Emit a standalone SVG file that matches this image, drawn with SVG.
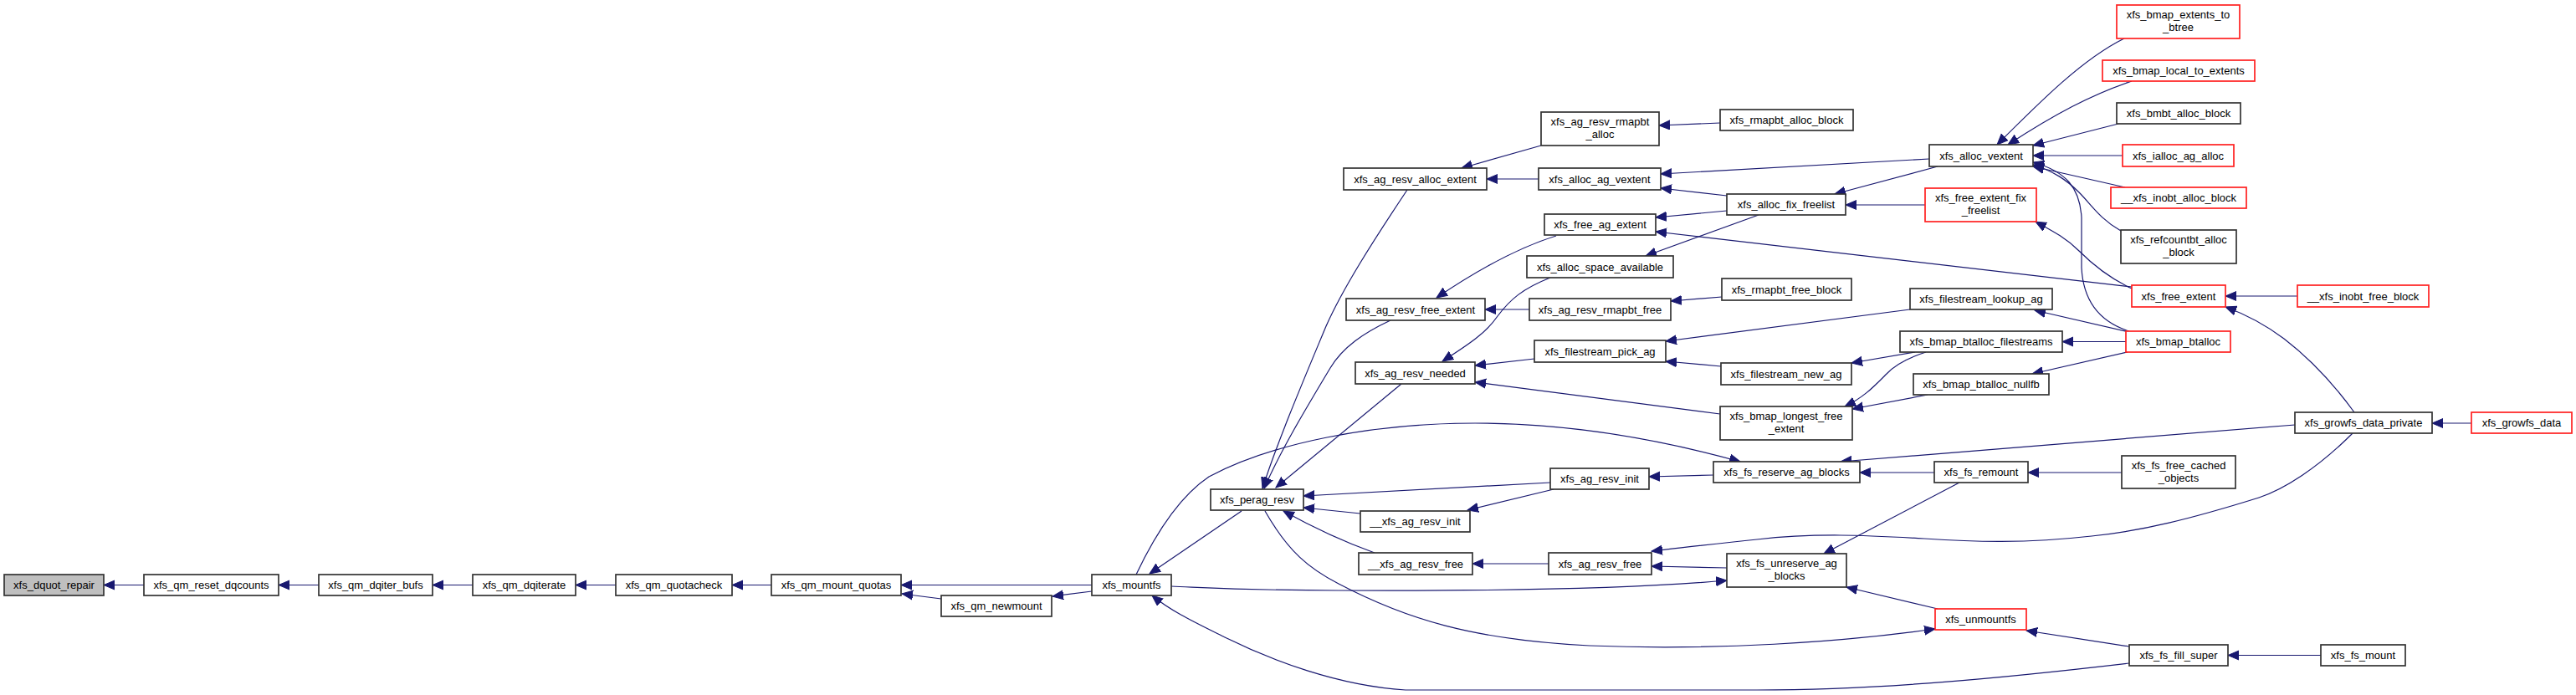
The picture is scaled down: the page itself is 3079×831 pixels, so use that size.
<svg xmlns="http://www.w3.org/2000/svg" width="3079" height="831" viewBox="0 0 3079 831">
<style>
.n rect{fill:#fff;stroke:#333;stroke-width:1.7}
.r rect{fill:#fff;stroke:#ff2020;stroke-width:1.7}
.g rect{fill:#bfbfbf;stroke:#333;stroke-width:1.7}
text{font-family:"Liberation Sans",Arial,sans-serif;font-size:13px;fill:#000;text-anchor:middle}
#edges path{fill:none;stroke:#191970;stroke-width:1.2;marker-end:url(#ah)}
</style>
<defs>
<marker id="ah" markerUnits="userSpaceOnUse" markerWidth="15" markerHeight="13" refX="13" refY="6" orient="auto">
<path d="M0,0.5 L13,6 L0,11.5 z" fill="#191970" stroke="#191970" stroke-width="1"/>
</marker>
</defs>
<rect width="3079" height="831" fill="#fff"/>
<g id="edges">
<path d="M172,699.5 L124,699.5"/>
<path d="M381,699.5 L333,699.5"/>
<path d="M565,699.5 L517,699.5"/>
<path d="M736,699.5 L688,699.5"/>
<path d="M922,699.5 L875,699.5"/>
<path d="M1305,699.5 L1077,699.5"/>
<path d="M1125,716 L1078,710"/>
<path d="M1305,707 L1258,713"/>
<path d="M1484,611 L1374,686"/>
<path d="M1358,687 C1385,630 1415,590 1445,570 C1520,530 1640,506 1763,506 C1880,506 1990,527 2080,552"/>
<path d="M1682,227 C1640,290 1605,345 1585,390 C1560,450 1528,525 1509,584"/>
<path d="M1662,383 C1630,398 1605,415 1590,440 C1560,490 1530,540 1511,584"/>
<path d="M1675,459 L1525,583"/>
<path d="M1853,332 C1820,345 1805,358 1790,378 C1775,400 1750,415 1724,432"/>
<path d="M1860,282 C1815,296 1770,320 1717,356"/>
<path d="M1842,174 L1747,201"/>
<path d="M1839,214 L1777,214"/>
<path d="M1828,370 L1775,370"/>
<path d="M1834,429 L1763,437"/>
<path d="M2056,495 L1763,457"/>
<path d="M1853,577 L1558,593"/>
<path d="M1626,614 L1558,607"/>
<path d="M1857,585 L1754,610"/>
<path d="M1643,661 Q1590,642 1534,611"/>
<path d="M1851,674 L1760,674"/>
<path d="M2812,518 C2770,560 2730,585 2700,595 C2620,620 2560,635 2500,641 C2420,650 2360,648 2300,644 C2230,640 2170,637 2100,645 C2050,650 2010,655 1974,659"/>
<path d="M2064,679 L1974,677"/>
<path d="M1400,701 C1450,703 1500,706 1600,706 C1800,707 1950,704 2064,694"/>
<path d="M1512,611 C1540,660 1565,680 1600,698 C1680,740 1760,765 1900,772 C2050,778 2200,768 2313,752"/>
<path d="M2545,793 C2400,810 2250,825 2100,825 L1680,825 C1600,820 1520,790 1460,760 C1430,745 1400,731 1377,712"/>
<path d="M2545,773 L2422,754"/>
<path d="M2316,728 L2207,702"/>
<path d="M2342,577 L2180,662"/>
<path d="M2312,565 L2223,565"/>
<path d="M2536,565 L2424,565"/>
<path d="M2743,508 L2200,552"/>
<path d="M2954,506 L2907,506"/>
<path d="M2048,568 L1971,570"/>
<path d="M2814,493 C2790,460 2760,428 2730,405 C2710,390 2690,378 2660,367"/>
<path d="M2746,354 L2660,354"/>
<path d="M2774,783.5 L2663,783.5"/>
<path d="M2289,421 L2213,434"/>
<path d="M2302,421 C2280,428 2265,436 2255,447 C2240,462 2228,475 2205,486"/>
<path d="M2304,472 L2214,489"/>
<path d="M2543,421 L2429,447"/>
<path d="M2541,408.5 L2465,408.5"/>
<path d="M2545,397 L2432,371"/>
<path d="M2545,396 C2510,385 2490,360 2488,320 L2488,260 C2486,225 2470,205 2430,194"/>
<path d="M2535,276 C2510,262 2500,245 2485,230 C2470,215 2455,205 2430,197"/>
<path d="M2532,148 L2430,174"/>
<path d="M2537,186 L2430,186"/>
<path d="M2540,224 L2430,199"/>
<path d="M2548,97 C2500,113 2455,137 2400,173"/>
<path d="M2539,46 C2490,70 2440,120 2387,173"/>
<path d="M2316,199 L2193,232"/>
<path d="M2301,245 L2206,245"/>
<path d="M2306,190 L1985,208"/>
<path d="M2064,234 L1985,225"/>
<path d="M2064,252 L1979,260"/>
<path d="M2548,343 L1979,277"/>
<path d="M2102,257 L1967,306"/>
<path d="M2548,345 C2520,332 2500,315 2485,300 C2470,285 2455,277 2433,265"/>
<path d="M2056,147 L1983,150"/>
<path d="M2058,355 L1997,360"/>
<path d="M2283,370 L1991,408"/>
<path d="M2057,438 L1991,432"/>
</g>
<g id="n1" class="g"><rect x="5" y="687" width="119" height="25"/><text x="64.5" y="704">xfs_dquot_repair</text></g>
<g id="n2" class="n"><rect x="172" y="687" width="161" height="25"/><text x="252.5" y="704">xfs_qm_reset_dqcounts</text></g>
<g id="n3" class="n"><rect x="381" y="687" width="136" height="25"/><text x="449" y="704">xfs_qm_dqiter_bufs</text></g>
<g id="n4" class="n"><rect x="565" y="687" width="123" height="25"/><text x="626.5" y="704">xfs_qm_dqiterate</text></g>
<g id="n5" class="n"><rect x="736" y="687" width="139" height="25"/><text x="805.5" y="704">xfs_qm_quotacheck</text></g>
<g id="n6" class="n"><rect x="922" y="687" width="155" height="25"/><text x="999.5" y="704">xfs_qm_mount_quotas</text></g>
<g id="n7" class="n"><rect x="1125" y="712" width="132" height="25"/><text x="1191" y="729">xfs_qm_newmount</text></g>
<g id="n8" class="n"><rect x="1305" y="687" width="95" height="25"/><text x="1352.5" y="704">xfs_mountfs</text></g>
<g id="n9" class="n"><rect x="1447" y="585" width="111" height="25"/><text x="1502.5" y="602">xfs_perag_resv</text></g>
<g id="n10" class="n"><rect x="1606" y="201" width="171" height="26"/><text x="1691.5" y="218.5">xfs_ag_resv_alloc_extent</text></g>
<g id="n11" class="n"><rect x="1609" y="357" width="166" height="26"/><text x="1692" y="374.5">xfs_ag_resv_free_extent</text></g>
<g id="n12" class="n"><rect x="1620" y="433" width="143" height="26"/><text x="1691.5" y="450.5">xfs_ag_resv_needed</text></g>
<g id="n13" class="n"><rect x="1853" y="560" width="118" height="25"/><text x="1912" y="577">xfs_ag_resv_init</text></g>
<g id="n14" class="n"><rect x="1626" y="611" width="131" height="25"/><text x="1691.5" y="628">__xfs_ag_resv_init</text></g>
<g id="n15" class="n"><rect x="1624" y="661" width="136" height="26"/><text x="1692" y="678.5">__xfs_ag_resv_free</text></g>
<g id="n16" class="n"><rect x="1851" y="661" width="123" height="26"/><text x="1912.5" y="678.5">xfs_ag_resv_free</text></g>
<g id="n17" class="n"><rect x="1842" y="134" width="141" height="40"/><text x="1912.5" y="150">xfs_ag_resv_rmapbt</text><text x="1912.5" y="165">_alloc</text></g>
<g id="n18" class="n"><rect x="1839" y="201" width="146" height="26"/><text x="1912" y="218.5">xfs_alloc_ag_vextent</text></g>
<g id="n19" class="n"><rect x="1846" y="256" width="133" height="25"/><text x="1912.5" y="273">xfs_free_ag_extent</text></g>
<g id="n20" class="n"><rect x="1825" y="306" width="175" height="26"/><text x="1912.5" y="323.5">xfs_alloc_space_available</text></g>
<g id="n21" class="n"><rect x="1828" y="357" width="169" height="26"/><text x="1912.5" y="374.5">xfs_ag_resv_rmapbt_free</text></g>
<g id="n22" class="n"><rect x="1834" y="407" width="157" height="26"/><text x="1912.5" y="424.5">xfs_filestream_pick_ag</text></g>
<g id="n23" class="n"><rect x="2056" y="131" width="159" height="25"/><text x="2135.5" y="148">xfs_rmapbt_alloc_block</text></g>
<g id="n24" class="n"><rect x="2306" y="173" width="124" height="26"/><text x="2368" y="190.5">xfs_alloc_vextent</text></g>
<g id="n25" class="n"><rect x="2064" y="232" width="142" height="25"/><text x="2135" y="249">xfs_alloc_fix_freelist</text></g>
<g id="n26" class="r"><rect x="2301" y="225" width="133" height="40"/><text x="2367.5" y="241">xfs_free_extent_fix</text><text x="2367.5" y="256">_freelist</text></g>
<g id="n27" class="n"><rect x="2058" y="333" width="155" height="26"/><text x="2135.5" y="350.5">xfs_rmapbt_free_block</text></g>
<g id="n28" class="n"><rect x="2283" y="345" width="170" height="25"/><text x="2368" y="362">xfs_filestream_lookup_ag</text></g>
<g id="n29" class="n"><rect x="2271" y="396" width="194" height="25"/><text x="2368" y="413">xfs_bmap_btalloc_filestreams</text></g>
<g id="n30" class="n"><rect x="2057" y="434" width="156" height="26"/><text x="2135" y="451.5">xfs_filestream_new_ag</text></g>
<g id="n31" class="n"><rect x="2287" y="447" width="162" height="25"/><text x="2368" y="464">xfs_bmap_btalloc_nullfb</text></g>
<g id="n32" class="n"><rect x="2056" y="486" width="158" height="40"/><text x="2135" y="502">xfs_bmap_longest_free</text><text x="2135" y="517">_extent</text></g>
<g id="n33" class="n"><rect x="2048" y="552" width="175" height="25"/><text x="2135.5" y="569">xfs_fs_reserve_ag_blocks</text></g>
<g id="n34" class="n"><rect x="2312" y="552" width="112" height="25"/><text x="2368" y="569">xfs_fs_remount</text></g>
<g id="n35" class="n"><rect x="2064" y="662" width="143" height="40"/><text x="2135.5" y="678">xfs_fs_unreserve_ag</text><text x="2135.5" y="693">_blocks</text></g>
<g id="n36" class="r"><rect x="2313" y="728" width="109" height="25"/><text x="2367.5" y="745">xfs_unmountfs</text></g>
<g id="n37" class="r"><rect x="2530" y="6" width="147" height="40"/><text x="2603.5" y="22">xfs_bmap_extents_to</text><text x="2603.5" y="37">_btree</text></g>
<g id="n38" class="r"><rect x="2513" y="72" width="182" height="25"/><text x="2604" y="89">xfs_bmap_local_to_extents</text></g>
<g id="n39" class="n"><rect x="2530" y="123" width="148" height="25"/><text x="2604" y="140">xfs_bmbt_alloc_block</text></g>
<g id="n40" class="r"><rect x="2537" y="173" width="133" height="26"/><text x="2603.5" y="190.5">xfs_ialloc_ag_alloc</text></g>
<g id="n41" class="r"><rect x="2523" y="224" width="162" height="25"/><text x="2604" y="241">__xfs_inobt_alloc_block</text></g>
<g id="n42" class="n"><rect x="2535" y="275" width="138" height="40"/><text x="2604" y="291">xfs_refcountbt_alloc</text><text x="2604" y="306">_block</text></g>
<g id="n43" class="r"><rect x="2548" y="341" width="112" height="26"/><text x="2604" y="358.5">xfs_free_extent</text></g>
<g id="n44" class="r"><rect x="2746" y="341" width="157" height="26"/><text x="2824.5" y="358.5">__xfs_inobt_free_block</text></g>
<g id="n45" class="r"><rect x="2541" y="396" width="125" height="25"/><text x="2603.5" y="413">xfs_bmap_btalloc</text></g>
<g id="n46" class="n"><rect x="2743" y="493" width="164" height="25"/><text x="2825" y="510">xfs_growfs_data_private</text></g>
<g id="n47" class="r"><rect x="2954" y="493" width="120" height="25"/><text x="3014" y="510">xfs_growfs_data</text></g>
<g id="n48" class="n"><rect x="2536" y="545" width="136" height="39"/><text x="2604" y="561">xfs_fs_free_cached</text><text x="2604" y="576">_objects</text></g>
<g id="n49" class="n"><rect x="2545" y="771" width="118" height="25"/><text x="2604" y="788">xfs_fs_fill_super</text></g>
<g id="n50" class="n"><rect x="2774" y="771" width="101" height="25"/><text x="2824.5" y="788">xfs_fs_mount</text></g>
</svg>
